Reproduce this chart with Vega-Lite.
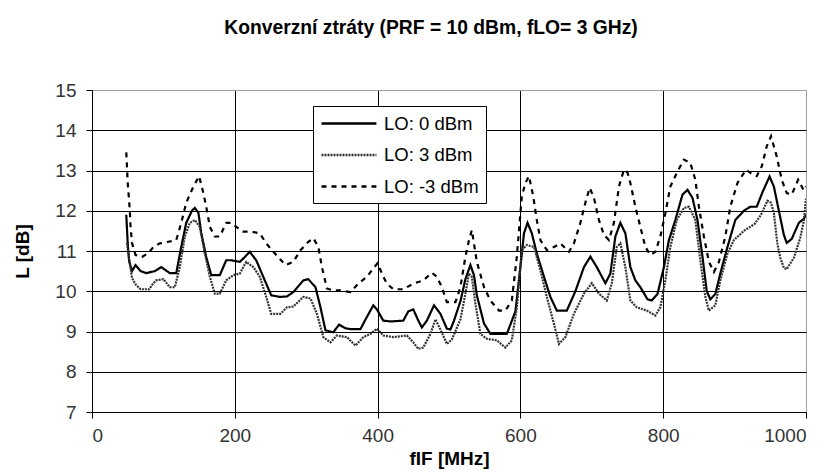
{
  "$schema": "https://vega.github.io/schema/vega-lite/v6.json",
  "width": 714,
  "height": 322,
  "autosize": "none",
  "padding": {"left": 92, "top": 90, "right": 25, "bottom": 61},
  "background": "white",
  "title": {
    "text": "Konverzní ztráty (PRF = 10 dBm, fLO= 3 GHz)",
    "font": "Liberation Sans",
    "fontSize": 19.3,
    "fontWeight": "bold",
    "color": "black",
    "baseline": "alphabetic",
    "offset": 28,
    "dx": -18
  },
  "config": {
    "view": {"stroke": "#a0a0a0", "strokeWidth": 1},
    "axis": {
      "domainColor": "black",
      "tickColor": "black",
      "tickSize": 6,
      "labelFont": "Liberation Sans",
      "labelFontSize": 19,
      "labelColor": "#333333",
      "titleFont": "Liberation Sans",
      "titleFontSize": 19,
      "titleFontWeight": "bold",
      "titleColor": "black",
      "gridOpacity": 1,
      "gridWidth": 1
    },
    "legend": {
      "labelFont": "Liberation Sans",
      "labelFontSize": 18.5,
      "labelColor": "black"
    }
  },
  "data": {
    "values": [
      {"f": 48, "L": 11.9, "s": "LO: 0 dBm"},
      {"f": 50, "L": 11.2, "s": "LO: 0 dBm"},
      {"f": 52, "L": 10.75, "s": "LO: 0 dBm"},
      {"f": 56, "L": 10.5, "s": "LO: 0 dBm"},
      {"f": 61, "L": 10.65, "s": "LO: 0 dBm"},
      {"f": 68, "L": 10.5, "s": "LO: 0 dBm"},
      {"f": 76, "L": 10.45, "s": "LO: 0 dBm"},
      {"f": 88, "L": 10.5, "s": "LO: 0 dBm"},
      {"f": 97, "L": 10.6, "s": "LO: 0 dBm"},
      {"f": 109, "L": 10.45, "s": "LO: 0 dBm"},
      {"f": 118, "L": 10.45, "s": "LO: 0 dBm"},
      {"f": 125, "L": 11.1, "s": "LO: 0 dBm"},
      {"f": 132, "L": 11.7, "s": "LO: 0 dBm"},
      {"f": 140, "L": 12.0, "s": "LO: 0 dBm"},
      {"f": 144, "L": 12.07, "s": "LO: 0 dBm"},
      {"f": 149, "L": 11.95, "s": "LO: 0 dBm"},
      {"f": 153, "L": 11.45, "s": "LO: 0 dBm"},
      {"f": 160, "L": 10.85, "s": "LO: 0 dBm"},
      {"f": 167, "L": 10.4, "s": "LO: 0 dBm"},
      {"f": 179, "L": 10.4, "s": "LO: 0 dBm"},
      {"f": 188, "L": 10.77, "s": "LO: 0 dBm"},
      {"f": 195, "L": 10.77, "s": "LO: 0 dBm"},
      {"f": 207, "L": 10.73, "s": "LO: 0 dBm"},
      {"f": 214, "L": 10.85, "s": "LO: 0 dBm"},
      {"f": 221, "L": 10.98, "s": "LO: 0 dBm"},
      {"f": 230, "L": 10.77, "s": "LO: 0 dBm"},
      {"f": 242, "L": 10.27, "s": "LO: 0 dBm"},
      {"f": 251, "L": 9.9, "s": "LO: 0 dBm"},
      {"f": 263, "L": 9.86, "s": "LO: 0 dBm"},
      {"f": 273, "L": 9.87, "s": "LO: 0 dBm"},
      {"f": 282, "L": 9.98, "s": "LO: 0 dBm"},
      {"f": 296, "L": 10.27, "s": "LO: 0 dBm"},
      {"f": 303, "L": 10.3, "s": "LO: 0 dBm"},
      {"f": 313, "L": 10.1, "s": "LO: 0 dBm"},
      {"f": 320, "L": 9.6, "s": "LO: 0 dBm"},
      {"f": 327, "L": 9.03, "s": "LO: 0 dBm"},
      {"f": 338, "L": 8.98, "s": "LO: 0 dBm"},
      {"f": 346, "L": 9.17, "s": "LO: 0 dBm"},
      {"f": 355, "L": 9.08, "s": "LO: 0 dBm"},
      {"f": 362, "L": 9.06, "s": "LO: 0 dBm"},
      {"f": 376, "L": 9.06, "s": "LO: 0 dBm"},
      {"f": 384, "L": 9.33, "s": "LO: 0 dBm"},
      {"f": 394, "L": 9.65, "s": "LO: 0 dBm"},
      {"f": 399, "L": 9.55, "s": "LO: 0 dBm"},
      {"f": 408, "L": 9.27, "s": "LO: 0 dBm"},
      {"f": 418, "L": 9.25, "s": "LO: 0 dBm"},
      {"f": 436, "L": 9.27, "s": "LO: 0 dBm"},
      {"f": 443, "L": 9.5, "s": "LO: 0 dBm"},
      {"f": 450, "L": 9.55, "s": "LO: 0 dBm"},
      {"f": 457, "L": 9.27, "s": "LO: 0 dBm"},
      {"f": 462, "L": 9.1, "s": "LO: 0 dBm"},
      {"f": 469, "L": 9.27, "s": "LO: 0 dBm"},
      {"f": 479, "L": 9.65, "s": "LO: 0 dBm"},
      {"f": 488, "L": 9.44, "s": "LO: 0 dBm"},
      {"f": 497, "L": 9.07, "s": "LO: 0 dBm"},
      {"f": 502, "L": 9.05, "s": "LO: 0 dBm"},
      {"f": 507, "L": 9.27, "s": "LO: 0 dBm"},
      {"f": 516, "L": 9.75, "s": "LO: 0 dBm"},
      {"f": 523, "L": 10.3, "s": "LO: 0 dBm"},
      {"f": 530, "L": 10.65, "s": "LO: 0 dBm"},
      {"f": 535, "L": 10.4, "s": "LO: 0 dBm"},
      {"f": 539, "L": 9.9, "s": "LO: 0 dBm"},
      {"f": 549, "L": 9.2, "s": "LO: 0 dBm"},
      {"f": 558, "L": 8.94, "s": "LO: 0 dBm"},
      {"f": 581, "L": 8.94, "s": "LO: 0 dBm"},
      {"f": 593, "L": 9.5, "s": "LO: 0 dBm"},
      {"f": 600, "L": 10.6, "s": "LO: 0 dBm"},
      {"f": 605, "L": 11.44, "s": "LO: 0 dBm"},
      {"f": 610, "L": 11.7, "s": "LO: 0 dBm"},
      {"f": 616, "L": 11.44, "s": "LO: 0 dBm"},
      {"f": 623, "L": 10.94, "s": "LO: 0 dBm"},
      {"f": 633, "L": 10.36, "s": "LO: 0 dBm"},
      {"f": 642, "L": 9.86, "s": "LO: 0 dBm"},
      {"f": 651, "L": 9.52, "s": "LO: 0 dBm"},
      {"f": 665, "L": 9.52, "s": "LO: 0 dBm"},
      {"f": 677, "L": 10.0, "s": "LO: 0 dBm"},
      {"f": 689, "L": 10.6, "s": "LO: 0 dBm"},
      {"f": 698, "L": 10.86, "s": "LO: 0 dBm"},
      {"f": 707, "L": 10.6, "s": "LO: 0 dBm"},
      {"f": 719, "L": 10.2, "s": "LO: 0 dBm"},
      {"f": 726, "L": 10.44, "s": "LO: 0 dBm"},
      {"f": 733, "L": 11.36, "s": "LO: 0 dBm"},
      {"f": 740, "L": 11.7, "s": "LO: 0 dBm"},
      {"f": 747, "L": 11.44, "s": "LO: 0 dBm"},
      {"f": 754, "L": 10.6, "s": "LO: 0 dBm"},
      {"f": 761, "L": 10.27, "s": "LO: 0 dBm"},
      {"f": 768, "L": 10.1, "s": "LO: 0 dBm"},
      {"f": 778, "L": 9.8, "s": "LO: 0 dBm"},
      {"f": 784, "L": 9.77, "s": "LO: 0 dBm"},
      {"f": 792, "L": 9.93, "s": "LO: 0 dBm"},
      {"f": 801, "L": 10.6, "s": "LO: 0 dBm"},
      {"f": 808, "L": 11.27, "s": "LO: 0 dBm"},
      {"f": 817, "L": 11.77, "s": "LO: 0 dBm"},
      {"f": 827, "L": 12.4, "s": "LO: 0 dBm"},
      {"f": 834, "L": 12.52, "s": "LO: 0 dBm"},
      {"f": 841, "L": 12.32, "s": "LO: 0 dBm"},
      {"f": 848, "L": 11.77, "s": "LO: 0 dBm"},
      {"f": 855, "L": 10.86, "s": "LO: 0 dBm"},
      {"f": 861, "L": 10.0, "s": "LO: 0 dBm"},
      {"f": 866, "L": 9.8, "s": "LO: 0 dBm"},
      {"f": 873, "L": 9.93, "s": "LO: 0 dBm"},
      {"f": 880, "L": 10.44, "s": "LO: 0 dBm"},
      {"f": 890, "L": 11.1, "s": "LO: 0 dBm"},
      {"f": 901, "L": 11.77, "s": "LO: 0 dBm"},
      {"f": 913, "L": 12.0, "s": "LO: 0 dBm"},
      {"f": 922, "L": 12.1, "s": "LO: 0 dBm"},
      {"f": 931, "L": 12.1, "s": "LO: 0 dBm"},
      {"f": 940, "L": 12.5, "s": "LO: 0 dBm"},
      {"f": 949, "L": 12.85, "s": "LO: 0 dBm"},
      {"f": 955, "L": 12.6, "s": "LO: 0 dBm"},
      {"f": 962, "L": 12.0, "s": "LO: 0 dBm"},
      {"f": 969, "L": 11.4, "s": "LO: 0 dBm"},
      {"f": 973, "L": 11.2, "s": "LO: 0 dBm"},
      {"f": 980, "L": 11.3, "s": "LO: 0 dBm"},
      {"f": 990, "L": 11.7, "s": "LO: 0 dBm"},
      {"f": 997, "L": 11.8, "s": "LO: 0 dBm"},
      {"f": 1000, "L": 11.9, "s": "LO: 0 dBm"},

      {"f": 49, "L": 11.2, "s": "LO: 3 dBm"},
      {"f": 52, "L": 10.8, "s": "LO: 3 dBm"},
      {"f": 56, "L": 10.33, "s": "LO: 3 dBm"},
      {"f": 61, "L": 10.17, "s": "LO: 3 dBm"},
      {"f": 68, "L": 10.05, "s": "LO: 3 dBm"},
      {"f": 80, "L": 10.05, "s": "LO: 3 dBm"},
      {"f": 86, "L": 10.2, "s": "LO: 3 dBm"},
      {"f": 90, "L": 10.27, "s": "LO: 3 dBm"},
      {"f": 100, "L": 10.3, "s": "LO: 3 dBm"},
      {"f": 109, "L": 10.1, "s": "LO: 3 dBm"},
      {"f": 116, "L": 10.1, "s": "LO: 3 dBm"},
      {"f": 123, "L": 10.6, "s": "LO: 3 dBm"},
      {"f": 130, "L": 11.36, "s": "LO: 3 dBm"},
      {"f": 137, "L": 11.7, "s": "LO: 3 dBm"},
      {"f": 144, "L": 11.77, "s": "LO: 3 dBm"},
      {"f": 151, "L": 11.6, "s": "LO: 3 dBm"},
      {"f": 158, "L": 10.94, "s": "LO: 3 dBm"},
      {"f": 165, "L": 10.36, "s": "LO: 3 dBm"},
      {"f": 172, "L": 9.94, "s": "LO: 3 dBm"},
      {"f": 179, "L": 9.94, "s": "LO: 3 dBm"},
      {"f": 188, "L": 10.27, "s": "LO: 3 dBm"},
      {"f": 198, "L": 10.4, "s": "LO: 3 dBm"},
      {"f": 207, "L": 10.44, "s": "LO: 3 dBm"},
      {"f": 216, "L": 10.73, "s": "LO: 3 dBm"},
      {"f": 226, "L": 10.6, "s": "LO: 3 dBm"},
      {"f": 235, "L": 10.36, "s": "LO: 3 dBm"},
      {"f": 244, "L": 9.86, "s": "LO: 3 dBm"},
      {"f": 251, "L": 9.44, "s": "LO: 3 dBm"},
      {"f": 264, "L": 9.44, "s": "LO: 3 dBm"},
      {"f": 273, "L": 9.6, "s": "LO: 3 dBm"},
      {"f": 282, "L": 9.62, "s": "LO: 3 dBm"},
      {"f": 296, "L": 9.86, "s": "LO: 3 dBm"},
      {"f": 306, "L": 9.82, "s": "LO: 3 dBm"},
      {"f": 315, "L": 9.44, "s": "LO: 3 dBm"},
      {"f": 324, "L": 8.86, "s": "LO: 3 dBm"},
      {"f": 334, "L": 8.73, "s": "LO: 3 dBm"},
      {"f": 343, "L": 8.9, "s": "LO: 3 dBm"},
      {"f": 357, "L": 8.86, "s": "LO: 3 dBm"},
      {"f": 369, "L": 8.65, "s": "LO: 3 dBm"},
      {"f": 380, "L": 8.86, "s": "LO: 3 dBm"},
      {"f": 390, "L": 8.94, "s": "LO: 3 dBm"},
      {"f": 399, "L": 9.07, "s": "LO: 3 dBm"},
      {"f": 408, "L": 8.9, "s": "LO: 3 dBm"},
      {"f": 422, "L": 8.86, "s": "LO: 3 dBm"},
      {"f": 441, "L": 8.9, "s": "LO: 3 dBm"},
      {"f": 450, "L": 8.73, "s": "LO: 3 dBm"},
      {"f": 457, "L": 8.57, "s": "LO: 3 dBm"},
      {"f": 464, "L": 8.6, "s": "LO: 3 dBm"},
      {"f": 474, "L": 8.94, "s": "LO: 3 dBm"},
      {"f": 481, "L": 9.3, "s": "LO: 3 dBm"},
      {"f": 488, "L": 9.05, "s": "LO: 3 dBm"},
      {"f": 497, "L": 8.69, "s": "LO: 3 dBm"},
      {"f": 504, "L": 8.8, "s": "LO: 3 dBm"},
      {"f": 516, "L": 9.3, "s": "LO: 3 dBm"},
      {"f": 523, "L": 9.94, "s": "LO: 3 dBm"},
      {"f": 528, "L": 10.44, "s": "LO: 3 dBm"},
      {"f": 532, "L": 10.36, "s": "LO: 3 dBm"},
      {"f": 537, "L": 9.69, "s": "LO: 3 dBm"},
      {"f": 544, "L": 8.94, "s": "LO: 3 dBm"},
      {"f": 553, "L": 8.82, "s": "LO: 3 dBm"},
      {"f": 567, "L": 8.78, "s": "LO: 3 dBm"},
      {"f": 579, "L": 8.6, "s": "LO: 3 dBm"},
      {"f": 588, "L": 8.78, "s": "LO: 3 dBm"},
      {"f": 595, "L": 9.6, "s": "LO: 3 dBm"},
      {"f": 602, "L": 11.02, "s": "LO: 3 dBm"},
      {"f": 609, "L": 11.15, "s": "LO: 3 dBm"},
      {"f": 619, "L": 11.1, "s": "LO: 3 dBm"},
      {"f": 628, "L": 10.52, "s": "LO: 3 dBm"},
      {"f": 637, "L": 9.86, "s": "LO: 3 dBm"},
      {"f": 647, "L": 9.19, "s": "LO: 3 dBm"},
      {"f": 654, "L": 8.69, "s": "LO: 3 dBm"},
      {"f": 663, "L": 8.86, "s": "LO: 3 dBm"},
      {"f": 675, "L": 9.44, "s": "LO: 3 dBm"},
      {"f": 689, "L": 9.94, "s": "LO: 3 dBm"},
      {"f": 700, "L": 10.2, "s": "LO: 3 dBm"},
      {"f": 710, "L": 9.94, "s": "LO: 3 dBm"},
      {"f": 721, "L": 9.77, "s": "LO: 3 dBm"},
      {"f": 728, "L": 10.2, "s": "LO: 3 dBm"},
      {"f": 735, "L": 11.1, "s": "LO: 3 dBm"},
      {"f": 740, "L": 11.19, "s": "LO: 3 dBm"},
      {"f": 747, "L": 10.6, "s": "LO: 3 dBm"},
      {"f": 754, "L": 9.77, "s": "LO: 3 dBm"},
      {"f": 763, "L": 9.6, "s": "LO: 3 dBm"},
      {"f": 777, "L": 9.52, "s": "LO: 3 dBm"},
      {"f": 789, "L": 9.4, "s": "LO: 3 dBm"},
      {"f": 796, "L": 9.6, "s": "LO: 3 dBm"},
      {"f": 803, "L": 10.27, "s": "LO: 3 dBm"},
      {"f": 810, "L": 11.1, "s": "LO: 3 dBm"},
      {"f": 819, "L": 11.77, "s": "LO: 3 dBm"},
      {"f": 829, "L": 12.07, "s": "LO: 3 dBm"},
      {"f": 836, "L": 12.1, "s": "LO: 3 dBm"},
      {"f": 845, "L": 11.77, "s": "LO: 3 dBm"},
      {"f": 852, "L": 10.77, "s": "LO: 3 dBm"},
      {"f": 859, "L": 9.86, "s": "LO: 3 dBm"},
      {"f": 864, "L": 9.52, "s": "LO: 3 dBm"},
      {"f": 873, "L": 9.65, "s": "LO: 3 dBm"},
      {"f": 880, "L": 10.27, "s": "LO: 3 dBm"},
      {"f": 890, "L": 10.94, "s": "LO: 3 dBm"},
      {"f": 899, "L": 11.27, "s": "LO: 3 dBm"},
      {"f": 913, "L": 11.5, "s": "LO: 3 dBm"},
      {"f": 928, "L": 11.67, "s": "LO: 3 dBm"},
      {"f": 937, "L": 11.9, "s": "LO: 3 dBm"},
      {"f": 946, "L": 12.25, "s": "LO: 3 dBm"},
      {"f": 951, "L": 12.2, "s": "LO: 3 dBm"},
      {"f": 955, "L": 11.94, "s": "LO: 3 dBm"},
      {"f": 960, "L": 11.17, "s": "LO: 3 dBm"},
      {"f": 964, "L": 10.83, "s": "LO: 3 dBm"},
      {"f": 969, "L": 10.58, "s": "LO: 3 dBm"},
      {"f": 973, "L": 10.55, "s": "LO: 3 dBm"},
      {"f": 983, "L": 10.83, "s": "LO: 3 dBm"},
      {"f": 992, "L": 11.33, "s": "LO: 3 dBm"},
      {"f": 997, "L": 11.75, "s": "LO: 3 dBm"},
      {"f": 1000, "L": 12.3, "s": "LO: 3 dBm"},

      {"f": 48, "L": 13.45, "s": "LO: -3 dBm"},
      {"f": 49, "L": 13.1, "s": "LO: -3 dBm"},
      {"f": 50, "L": 12.7, "s": "LO: -3 dBm"},
      {"f": 51.5, "L": 12.35, "s": "LO: -3 dBm"},
      {"f": 53, "L": 12.0, "s": "LO: -3 dBm"},
      {"f": 54, "L": 11.6, "s": "LO: -3 dBm"},
      {"f": 56, "L": 11.2, "s": "LO: -3 dBm"},
      {"f": 61, "L": 10.9, "s": "LO: -3 dBm"},
      {"f": 70, "L": 10.85, "s": "LO: -3 dBm"},
      {"f": 79, "L": 10.95, "s": "LO: -3 dBm"},
      {"f": 86, "L": 11.1, "s": "LO: -3 dBm"},
      {"f": 95, "L": 11.19, "s": "LO: -3 dBm"},
      {"f": 107, "L": 11.23, "s": "LO: -3 dBm"},
      {"f": 118, "L": 11.27, "s": "LO: -3 dBm"},
      {"f": 125, "L": 11.7, "s": "LO: -3 dBm"},
      {"f": 132, "L": 12.2, "s": "LO: -3 dBm"},
      {"f": 142, "L": 12.6, "s": "LO: -3 dBm"},
      {"f": 150, "L": 12.86, "s": "LO: -3 dBm"},
      {"f": 156, "L": 12.44, "s": "LO: -3 dBm"},
      {"f": 160, "L": 12.1, "s": "LO: -3 dBm"},
      {"f": 165, "L": 11.6, "s": "LO: -3 dBm"},
      {"f": 172, "L": 11.36, "s": "LO: -3 dBm"},
      {"f": 179, "L": 11.36, "s": "LO: -3 dBm"},
      {"f": 188, "L": 11.7, "s": "LO: -3 dBm"},
      {"f": 195, "L": 11.7, "s": "LO: -3 dBm"},
      {"f": 202, "L": 11.6, "s": "LO: -3 dBm"},
      {"f": 212, "L": 11.48, "s": "LO: -3 dBm"},
      {"f": 223, "L": 11.48, "s": "LO: -3 dBm"},
      {"f": 235, "L": 11.44, "s": "LO: -3 dBm"},
      {"f": 244, "L": 11.19, "s": "LO: -3 dBm"},
      {"f": 258, "L": 10.9, "s": "LO: -3 dBm"},
      {"f": 271, "L": 10.65, "s": "LO: -3 dBm"},
      {"f": 282, "L": 10.73, "s": "LO: -3 dBm"},
      {"f": 292, "L": 11.02, "s": "LO: -3 dBm"},
      {"f": 303, "L": 11.23, "s": "LO: -3 dBm"},
      {"f": 310, "L": 11.32, "s": "LO: -3 dBm"},
      {"f": 317, "L": 11.1, "s": "LO: -3 dBm"},
      {"f": 322, "L": 10.6, "s": "LO: -3 dBm"},
      {"f": 329, "L": 10.07, "s": "LO: -3 dBm"},
      {"f": 338, "L": 10.02, "s": "LO: -3 dBm"},
      {"f": 348, "L": 10.02, "s": "LO: -3 dBm"},
      {"f": 362, "L": 9.98, "s": "LO: -3 dBm"},
      {"f": 373, "L": 10.19, "s": "LO: -3 dBm"},
      {"f": 385, "L": 10.36, "s": "LO: -3 dBm"},
      {"f": 392, "L": 10.52, "s": "LO: -3 dBm"},
      {"f": 400, "L": 10.7, "s": "LO: -3 dBm"},
      {"f": 406, "L": 10.44, "s": "LO: -3 dBm"},
      {"f": 413, "L": 10.19, "s": "LO: -3 dBm"},
      {"f": 422, "L": 10.05, "s": "LO: -3 dBm"},
      {"f": 436, "L": 10.05, "s": "LO: -3 dBm"},
      {"f": 450, "L": 10.19, "s": "LO: -3 dBm"},
      {"f": 464, "L": 10.27, "s": "LO: -3 dBm"},
      {"f": 476, "L": 10.46, "s": "LO: -3 dBm"},
      {"f": 483, "L": 10.36, "s": "LO: -3 dBm"},
      {"f": 490, "L": 10.1, "s": "LO: -3 dBm"},
      {"f": 497, "L": 9.73, "s": "LO: -3 dBm"},
      {"f": 509, "L": 9.73, "s": "LO: -3 dBm"},
      {"f": 516, "L": 10.1, "s": "LO: -3 dBm"},
      {"f": 523, "L": 10.86, "s": "LO: -3 dBm"},
      {"f": 528, "L": 11.27, "s": "LO: -3 dBm"},
      {"f": 532, "L": 11.52, "s": "LO: -3 dBm"},
      {"f": 539, "L": 10.73, "s": "LO: -3 dBm"},
      {"f": 549, "L": 10.1, "s": "LO: -3 dBm"},
      {"f": 558, "L": 9.77, "s": "LO: -3 dBm"},
      {"f": 570, "L": 9.52, "s": "LO: -3 dBm"},
      {"f": 579, "L": 9.52, "s": "LO: -3 dBm"},
      {"f": 588, "L": 9.77, "s": "LO: -3 dBm"},
      {"f": 595, "L": 10.86, "s": "LO: -3 dBm"},
      {"f": 602, "L": 12.36, "s": "LO: -3 dBm"},
      {"f": 607, "L": 12.69, "s": "LO: -3 dBm"},
      {"f": 612, "L": 12.86, "s": "LO: -3 dBm"},
      {"f": 618, "L": 12.36, "s": "LO: -3 dBm"},
      {"f": 623, "L": 11.77, "s": "LO: -3 dBm"},
      {"f": 628, "L": 11.27, "s": "LO: -3 dBm"},
      {"f": 637, "L": 11.02, "s": "LO: -3 dBm"},
      {"f": 647, "L": 11.1, "s": "LO: -3 dBm"},
      {"f": 656, "L": 11.19, "s": "LO: -3 dBm"},
      {"f": 668, "L": 10.98, "s": "LO: -3 dBm"},
      {"f": 675, "L": 11.19, "s": "LO: -3 dBm"},
      {"f": 684, "L": 11.7, "s": "LO: -3 dBm"},
      {"f": 691, "L": 12.2, "s": "LO: -3 dBm"},
      {"f": 697, "L": 12.57, "s": "LO: -3 dBm"},
      {"f": 703, "L": 12.32, "s": "LO: -3 dBm"},
      {"f": 710, "L": 11.77, "s": "LO: -3 dBm"},
      {"f": 717, "L": 11.4, "s": "LO: -3 dBm"},
      {"f": 724, "L": 11.27, "s": "LO: -3 dBm"},
      {"f": 731, "L": 11.7, "s": "LO: -3 dBm"},
      {"f": 738, "L": 12.6, "s": "LO: -3 dBm"},
      {"f": 745, "L": 13.02, "s": "LO: -3 dBm"},
      {"f": 750, "L": 12.95, "s": "LO: -3 dBm"},
      {"f": 754, "L": 12.69, "s": "LO: -3 dBm"},
      {"f": 761, "L": 12.1, "s": "LO: -3 dBm"},
      {"f": 768, "L": 11.6, "s": "LO: -3 dBm"},
      {"f": 775, "L": 11.1, "s": "LO: -3 dBm"},
      {"f": 782, "L": 10.9, "s": "LO: -3 dBm"},
      {"f": 789, "L": 10.98, "s": "LO: -3 dBm"},
      {"f": 796, "L": 11.36, "s": "LO: -3 dBm"},
      {"f": 803, "L": 11.94, "s": "LO: -3 dBm"},
      {"f": 810, "L": 12.6, "s": "LO: -3 dBm"},
      {"f": 819, "L": 12.94, "s": "LO: -3 dBm"},
      {"f": 829, "L": 13.27, "s": "LO: -3 dBm"},
      {"f": 838, "L": 13.19, "s": "LO: -3 dBm"},
      {"f": 845, "L": 12.77, "s": "LO: -3 dBm"},
      {"f": 850, "L": 12.1, "s": "LO: -3 dBm"},
      {"f": 857, "L": 11.36, "s": "LO: -3 dBm"},
      {"f": 864, "L": 10.73, "s": "LO: -3 dBm"},
      {"f": 871, "L": 10.48, "s": "LO: -3 dBm"},
      {"f": 878, "L": 10.73, "s": "LO: -3 dBm"},
      {"f": 887, "L": 11.36, "s": "LO: -3 dBm"},
      {"f": 894, "L": 12.1, "s": "LO: -3 dBm"},
      {"f": 904, "L": 12.69, "s": "LO: -3 dBm"},
      {"f": 916, "L": 13.02, "s": "LO: -3 dBm"},
      {"f": 922, "L": 12.94, "s": "LO: -3 dBm"},
      {"f": 931, "L": 12.86, "s": "LO: -3 dBm"},
      {"f": 938, "L": 13.1, "s": "LO: -3 dBm"},
      {"f": 945, "L": 13.6, "s": "LO: -3 dBm"},
      {"f": 951, "L": 13.85, "s": "LO: -3 dBm"},
      {"f": 959, "L": 13.35, "s": "LO: -3 dBm"},
      {"f": 966, "L": 12.77, "s": "LO: -3 dBm"},
      {"f": 973, "L": 12.44, "s": "LO: -3 dBm"},
      {"f": 980, "L": 12.4, "s": "LO: -3 dBm"},
      {"f": 989, "L": 12.77, "s": "LO: -3 dBm"},
      {"f": 997, "L": 12.5, "s": "LO: -3 dBm"},
      {"f": 1000, "L": 12.6, "s": "LO: -3 dBm"}
    ]
  },
  "mark": {"type": "line", "strokeWidth": 2.2, "clip": true},
  "encoding": {
    "x": {
      "field": "f",
      "type": "quantitative",
      "scale": {"domain": [0, 1000], "nice": false, "zero": false},
      "axis": {
        "title": "fIF [MHz]",
        "format": "d",
        "values": [0, 200, 400, 600, 800, 1000],
        "labelPadding": 8,
        "titlePadding": 4,
        "gridColor": {"condition": {"test": "datum.value >= 1000", "value": "#a0a0a0"}, "value": "black"}
      }
    },
    "y": {
      "field": "L",
      "type": "quantitative",
      "scale": {"domain": [7, 15], "nice": false, "zero": false},
      "axis": {
        "title": "L [dB]",
        "values": [7, 8, 9, 10, 11, 12, 13, 14, 15],
        "labelPadding": 10,
        "titlePadding": 22,
        "gridColor": {"condition": {"test": "datum.value >= 15", "value": "#a0a0a0"}, "value": "black"}
      }
    },
    "color": {
      "field": "s",
      "type": "nominal",
      "scale": {"domain": ["LO: 0 dBm", "LO: 3 dBm", "LO: -3 dBm"], "range": ["black", "#333333", "black"]},
      "legend": {
        "title": null,
        "orient": "none",
        "legendX": 221,
        "legendY": 16,
        "strokeColor": "black",
        "fillColor": "white",
        "padding": 7,
        "symbolType": "M-1,0H5.1",
        "symbolSize": 324,
        "symbolStrokeWidth": 2.5,
        "rowPadding": 11.5,
        "labelOffset": 43
      }
    },
    "strokeDash": {
      "field": "s",
      "type": "nominal",
      "scale": {"domain": ["LO: 0 dBm", "LO: 3 dBm", "LO: -3 dBm"], "range": [[1, 0], [2, 1], [5, 5]]},
      "legend": {
        "title": null,
        "orient": "none",
        "legendX": 221,
        "legendY": 16,
        "strokeColor": "black",
        "fillColor": "white",
        "padding": 7,
        "symbolType": "M-1,0H5.1",
        "symbolSize": 324,
        "symbolStrokeWidth": 2.5,
        "rowPadding": 11.5,
        "labelOffset": 43
      }
    }
  }
}
